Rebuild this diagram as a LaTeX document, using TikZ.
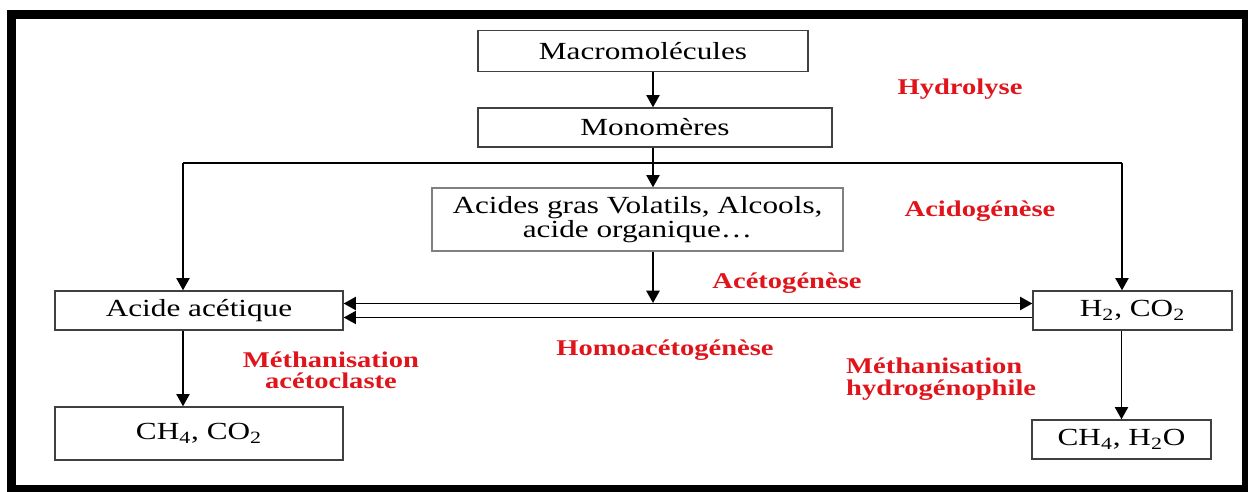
\documentclass[tikz,border=0pt]{standalone}
\usepackage{fontspec}
\setmainfont{Liberation Serif}[FakeStretch=1.27]
\usetikzlibrary{arrows.meta, positioning, calc}

\begin{document}
\begin{tikzpicture}[
    x=0.02cm, y=-0.02cm,
    every node/.style={font=\fontsize{14}{13.5}\selectfont},
    box/.style={draw=black!75, line width=0.8pt, fill=white, inner sep=2pt},
    phase/.style={font=\fontsize{12.8}{12.2}\selectfont\bfseries, text=phasered, align=center},
    arr/.style={line width=1.1pt, -{Triangle[length=7pt, width=7.5pt]}},
    link/.style={line width=0.8pt},
]

\definecolor{phasered}{HTML}{E0141B}   % step names

\useasboundingbox (0,0) rectangle (1248,491);

% ================================================================
%   main chain in the middle, two branches left and right
%   sizes in pixels of the 1248 x 491 figure
% ================================================================

% ---------------------------------------------------------------- boxes
\node[box, minimum width=6.6cm, minimum height=0.82cm] (macro) at (643,51) {Macromolécules};
\node[box, minimum width=7.08cm, minimum height=0.78cm] (mono) at (655,127.5) {Monomères};
\node[box, draw=black!50, minimum width=8.22cm, minimum height=1.26cm, align=center]
    (agv) at (637.5,219.5) {Acides gras Volatils, Alcools,\\acide organique\dots};
\node[box, minimum width=5.76cm, minimum height=0.78cm] (acetic) at (199,310.5) {Acide acétique};
\node[box, minimum width=3.98cm, minimum height=0.78cm] (hco) at (1132.5,310.5) {H\textsubscript{2}, CO\textsubscript{2}};
\node[box, minimum width=5.76cm, minimum height=1.06cm] (chco) at (199,433.5) {CH\textsubscript{4}, CO\textsubscript{2}};
\node[box, minimum width=3.58cm, minimum height=0.78cm] (chho) at (1121.5,439.5) {CH\textsubscript{4}, H\textsubscript{2}O};

% ---------------------------------------------------------------- split points
\coordinate (split) at (653,163);
\coordinate (splitL) at (183,163);
\coordinate (splitR) at (1122,163);
\coordinate (join) at (653,303);

% ---------------------------------------------------------------- connectors
\draw[arr] (macro.south -| split) -- (mono.north -| split);
\draw[link] (mono.south -| split) -- (split);
\draw[arr] (split) -- (agv.north -| split);
\draw[link] (splitL) -- (splitR);
\draw[arr] (splitL) -- (acetic.north -| splitL);
\draw[arr] (splitR) -- (hco.north -| splitR);
\draw[arr] (agv.south -| split) -- (join);

\draw[line width=1.1pt, {Triangle[length=7pt, width=7.5pt]}-{Triangle[length=7pt, width=7.5pt]}]
    ([yshift=0.14cm]acetic.east) -- ([yshift=0.14cm]hco.west);
\draw[arr, line width=0.8pt] ([yshift=-0.14cm]hco.west) -- ([yshift=-0.14cm]acetic.east);

\draw[arr] (acetic.south -| splitL) -- (chco.north -| splitL);
\draw[arr] (hco.south -| chho) -- (chho.north);

% ---------------------------------------------------------------- step names
\node[phase] (hydro) at (960,89) {Hydrolyse};
\node[phase] (acido) at (980,211) {Acidogénèse};
\node[phase] (aceto) at (787,283) {Acétogénèse};
\node[phase] (homo) at (665,350) {Homoacétogénèse};
\node[phase] (acetoclast) at (331,370.5) {Méthanisation\\acétoclaste};
\node[phase, align=left, anchor=west] (hydrogeno) at (840,379) {Méthanisation\\hydrogénophile};

% ---------------------------------------------------------------- frame
\draw[line width=0.18cm] (11.5,14) rectangle (1246,489);

\end{tikzpicture}
\end{document}
